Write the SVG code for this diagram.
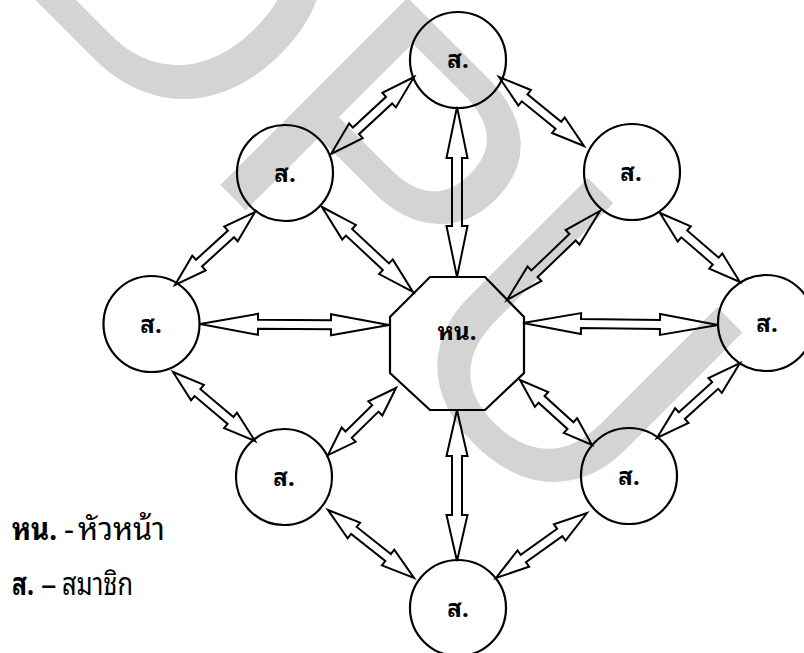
<svg xmlns="http://www.w3.org/2000/svg" width="804" height="653" viewBox="0 0 804 653">
  <style>
    .node { fill: none; stroke: #000; stroke-width: 2.2; }
    .arrow { fill: none; stroke: #000; stroke-width: 2; stroke-linejoin: miter; }
    .lbl { font-family: "Noto Sans Thai Looped", "Noto Serif Thai", "Norasi", "Garuda", "Noto Sans Thai", sans-serif; font-weight: bold; font-size: 24px; text-anchor: middle; fill: #000; }
    .legend { font-family: "Noto Sans Thai Looped", "Noto Serif Thai", "Norasi", "Garuda", "Noto Sans Thai", sans-serif; font-size: 31px; fill: #000; }
    .legend.key { font-weight: bold; }
    .wm { font-family: "Liberation Sans", Arial, sans-serif; font-size: 385px; fill: #d4d4d4; }
  </style>

  <rect width="804" height="653" fill="#fff"/>

  <!-- background mark -->
  <g id="watermark">
    <text class="wm" transform="rotate(45)" x="-23" y="-25">DPU</text>
  </g>

  <!-- two-way hollow arrows between members and the head -->
  <g id="connectors">
    <polygon class="arrow" transform="translate(414 77) rotate(137.15)" points="0,0 34,-10 34,-4.5 79.2,-4.5 79.2,-10 113.2,0 79.2,10 79.2,4.5 34,4.5 34,10"/>
    <polygon class="arrow" transform="translate(499 77) rotate(39.07)" points="0,0 33,-10 33,-4.5 76.5,-4.5 76.5,-10 109.5,0 76.5,10 76.5,4.5 33,4.5 33,10"/>
    <polygon class="arrow" transform="translate(457 107) rotate(90)" points="0,0 51,-10.5 51,-5 119,-5 119,-10.5 170,0 119,10.5 119,5 51,5 51,10.5"/>
    <polygon class="arrow" transform="translate(255 212) rotate(137.63)" points="0,0 32.5,-10 32.5,-4.5 75.8,-4.5 75.8,-10 108.3,0 75.8,10 75.8,4.5 32.5,4.5 32.5,10"/>
    <polygon class="arrow" transform="translate(322 207) rotate(43.05)" points="0,0 37,-10 37,-4.5 87.5,-4.5 87.5,-10 124.5,0 87.5,10 87.5,4.5 37,4.5 37,10"/>
    <polygon class="arrow" transform="translate(600 211) rotate(136.26)" points="0,0 38,-10 38,-4.5 90.7,-4.5 90.7,-10 128.7,0 90.7,10 90.7,4.5 38,4.5 38,10"/>
    <polygon class="arrow" transform="translate(660 213) rotate(40.78)" points="0,0 32,-10 32,-4.5 73.6,-4.5 73.6,-10 105.6,0 73.6,10 73.6,4.5 32,4.5 32,10"/>
    <polygon class="arrow" transform="translate(200 324) rotate(0.3)" points="0,0 58,-10.5 58,-4.5 131,-4.5 131,-10.5 189,0 131,10.5 131,4.5 58,4.5 58,10.5"/>
    <polygon class="arrow" transform="translate(523 323) rotate(0.59)" points="0,0 58,-10.5 58,-4.5 137,-4.5 137,-10.5 195,0 137,10.5 137,4.5 58,4.5 58,10.5"/>
    <polygon class="arrow" transform="translate(173 372) rotate(40.08)" points="0,0 32,-10 32,-4.5 75.2,-4.5 75.2,-10 107.2,0 75.2,10 75.2,4.5 32,4.5 32,10"/>
    <polygon class="arrow" transform="translate(396 388) rotate(135.42)" points="0,0 29,-10 29,-4.5 66.5,-4.5 66.5,-10 95.5,0 66.5,10 66.5,4.5 29,4.5 29,10"/>
    <polygon class="arrow" transform="translate(520 380) rotate(42.08)" points="0,0 29,-10 29,-4.5 68,-4.5 68,-10 97,0 68,10 68,4.5 29,4.5 29,10"/>
    <polygon class="arrow" transform="translate(740 363) rotate(137.9)" points="0,0 33.5,-10 33.5,-4.5 78.4,-4.5 78.4,-10 111.9,0 78.4,10 78.4,4.5 33.5,4.5 33.5,10"/>
    <polygon class="arrow" transform="translate(457 410) rotate(90)" points="0,0 46,-10.5 46,-5 105,-5 105,-10.5 151,0 105,10.5 105,5 46,5 46,10.5"/>
    <polygon class="arrow" transform="translate(328 510) rotate(38.33)" points="0,0 33,-10 33,-4.5 76.6,-4.5 76.6,-10 109.6,0 76.6,10 76.6,4.5 33,4.5 33,10"/>
    <polygon class="arrow" transform="translate(587 513) rotate(144.46)" points="0,0 33.5,-10 33.5,-4.5 78.3,-4.5 78.3,-10 111.8,0 78.3,10 78.3,4.5 33.5,4.5 33.5,10"/>
  </g>

  <!-- head (octagon) -->
  <g id="head">
    <polygon class="node" points="430,277 485,277 524,317 524,373 485,410 430,410 390,373 390,317"/>
    <text class="lbl" x="457" y="340">หน.</text>
  </g>

  <!-- members (circles) -->
  <g id="member-top">
    <circle class="node" cx="458" cy="60" r="48"/>
    <text class="lbl" x="458" y="68">ส.</text>
  </g>
  <g id="member-upper-left">
    <circle class="node" cx="285" cy="173" r="48"/>
    <text class="lbl" x="285" y="182">ส.</text>
  </g>
  <g id="member-upper-right">
    <circle class="node" cx="632" cy="172" r="48"/>
    <text class="lbl" x="631" y="181">ส.</text>
  </g>
  <g id="member-left">
    <circle class="node" cx="151.5" cy="324" r="48"/>
    <text class="lbl" x="151" y="333">ส.</text>
  </g>
  <g id="member-right">
    <circle class="node" cx="766" cy="323" r="48"/>
    <text class="lbl" x="767" y="332">ส.</text>
  </g>
  <g id="member-lower-left">
    <circle class="node" cx="284" cy="477" r="48"/>
    <text class="lbl" x="284" y="486">ส.</text>
  </g>
  <g id="member-lower-right">
    <circle class="node" cx="629" cy="476" r="48"/>
    <text class="lbl" x="629" y="485">ส.</text>
  </g>
  <g id="member-bottom">
    <circle class="node" cx="458" cy="608" r="48"/>
    <text class="lbl" x="458" y="617">ส.</text>
  </g>

  <!-- legend -->
  <g id="legend">
    <text class="legend key" x="12" y="540" textLength="45" lengthAdjust="spacingAndGlyphs">หน.</text>
    <text class="legend" x="64" y="540">-</text>
    <text class="legend" x="78" y="540" textLength="87" lengthAdjust="spacingAndGlyphs">หัวหน้า</text>
    <text class="legend key" x="12" y="595" textLength="22" lengthAdjust="spacingAndGlyphs">ส.</text>
    <text class="legend" x="41" y="595">–</text>
    <text class="legend" x="62" y="595" textLength="71" lengthAdjust="spacingAndGlyphs">สมาชิก</text>
  </g>
</svg>
